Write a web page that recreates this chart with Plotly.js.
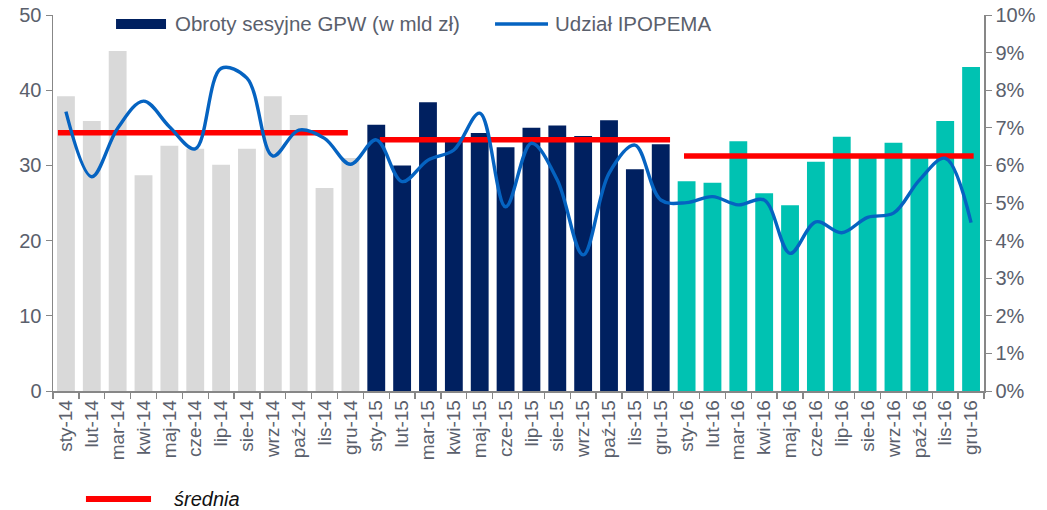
<!DOCTYPE html>
<html><head><meta charset="utf-8">
<script src="https://cdn.plot.ly/plotly-3.0.1.min.js"></script>
<style>html,body{margin:0;padding:0;background:#fff}#c{width:1047px;height:510px}</style>
</head><body><div id="c"></div>
<script>
const months = ["sty","lut","mar","kwi","maj","cze","lip","sie","wrz","paź","lis","gru"];
const years = ["14","15","16"];
const labels = [];
years.forEach(y => months.forEach(m => labels.push(m + "-" + y)));

const turnover2014 = [39.2,35.9,45.2,28.7,32.6,32.2,30.1,32.2,39.2,36.7,27.0,31.0];
const turnover2015 = [35.4,30.0,38.4,33.3,34.3,32.4,35.0,35.3,33.9,36.0,29.5,32.8];
const turnover2016 = [27.9,27.7,33.2,26.3,24.7,30.5,33.8,31.2,33.0,31.0,35.9,43.1];

const ipopemaShare = [7.43,5.70,6.99,7.71,7.03,6.44,8.58,8.32,6.25,6.94,6.72,6.03,
                      6.68,5.57,6.14,6.41,7.39,4.90,6.59,5.61,3.62,5.79,6.54,5.08,
                      5.01,5.17,4.95,5.08,3.66,4.50,4.21,4.62,4.73,5.61,6.19,4.48];

const meanShare = [6.87, 6.68, 6.25];

const seriesNames = ["Obroty sesyjne GPW (w mld zł)", "Udział IPOPEMA", "średnia"];

const yearColors = ["#D9D9D9", "#002060", "#00C2B2"];
const lineColor = "#0563C1";
const meanColor = "#FF0000";
const turnover = [turnover2014, turnover2015, turnover2016];

const xIdx = labels.map((_, i) => i);
const traces = [];
turnover.forEach((vals, k) => {
  traces.push({
    type: "bar", x: xIdx.slice(k*12, k*12+12), y: vals, name: seriesNames[0],
    marker: {color: yearColors[k]}, showlegend: false, hoverinfo: "y"
  });
});
// mean lines
const meanSpans = [[-0.31, 10.9], [12.14, 23.36], [23.9, 35.1]];
meanShare.forEach((v, k) => {
  traces.push({type:"scatter", mode:"lines", x: meanSpans[k], y:[v, v], yaxis:"y2",
    line:{color:meanColor, width:5.5}, name: seriesNames[2],
    showlegend: false, hoverinfo:"skip"});
});
traces.push({type:"scatter", mode:"lines", x: xIdx, y: ipopemaShare, yaxis:"y2", showlegend:false,
  name: seriesNames[1], line:{color:lineColor, width:3.4, shape:"spline", smoothing:1}});

const grey = "#878787";
const txt = "#5A606C";
const legFont = {size:20.5, color:txt};
const layout = {
  width: 1047, height: 510,
  margin: {l:53, r:63, t:15, b:119},
  paper_bgcolor:"#fff", plot_bgcolor:"#fff",
  font: {family:"Liberation Sans, Arial, sans-serif", color: txt},
  barmode:"overlay", bargap: 0.31, showlegend:false,
  xaxis: {type:"linear", range:[-0.5, 35.5], tickvals: xIdx, ticktext: labels,
    tickangle:-90, tickfont:{size:19, color:txt}, ticks:"", showgrid:false, zeroline:false,
    showline:true, linecolor:grey, linewidth:1.5, automargin:false,
    minor:{tick0:-0.5, dtick:1, ticks:"outside", ticklen:6, tickcolor:grey, tickwidth:1.3, showgrid:false}},
  yaxis: {range:[0,50], dtick:10, showgrid:false, zeroline:false, showline:true, automargin:false,
    linecolor:grey, linewidth:1.5, ticks:"outside", ticklen:6, tickcolor:grey,
    tickfont:{size:20, color:txt}},
  yaxis2: {range:[0,10], dtick:1, overlaying:"y", side:"right", showgrid:false, zeroline:false,
    showline:true, linecolor:grey, linewidth:1.5, ticks:"outside", ticklen:6, tickcolor:grey,
    automargin:false, ticksuffix:"%", tickfont:{size:20, color:txt}},
  shapes: [
    {type:"rect", xref:"paper", yref:"paper", x0:0.0677, x1:0.1214, y0:0.9628, y1:0.9894,
      fillcolor:yearColors[1], line:{width:0}},
    {type:"line", xref:"paper", yref:"paper", x0:0.4748, x1:0.5317, y0:0.9761, y1:0.9761,
      line:{color:lineColor, width:3.4}},
    {type:"line", xref:"paper", yref:"paper", x0:0.0354, x1:0.1053, y0:-0.287, y1:-0.287,
      line:{color:meanColor, width:6}}],
  annotations: [
    {xref:"paper", yref:"paper", x:0.1289, y:0.9761, xanchor:"left", yanchor:"middle",
      text:seriesNames[0], showarrow:false, font:legFont},
    {xref:"paper", yref:"paper", x:0.5371, y:0.9761, xanchor:"left", yanchor:"middle",
      text:seriesNames[1], showarrow:false, font:legFont},
    {xref:"paper", yref:"paper", x:0.1278, y:-0.287, xanchor:"left", yanchor:"middle",
      text:"<i>" + seriesNames[2] + "</i>", showarrow:false, font:{size:20, color:"#111"}}]
};
Plotly.newPlot("c", traces, layout, {displayModeBar:false, staticPlot:true});
</script></body></html>
